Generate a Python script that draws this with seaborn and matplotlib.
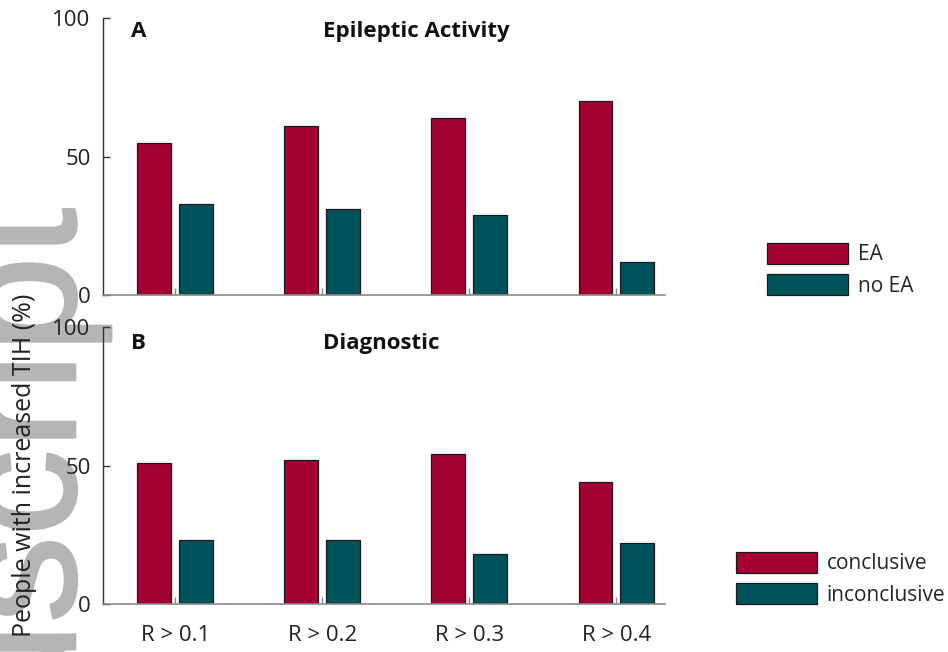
import numpy as np
import pandas as pd
import matplotlib
matplotlib.use("Agg")
import matplotlib.pyplot as plt
import matplotlib.patheffects as pe
import seaborn as sns

# Percent of people with increased TIH at each correlation threshold
thresholds = ["R > 0.1", "R > 0.2", "R > 0.3", "R > 0.4"]
ea = [55, 61, 64, 70]
no_ea = [33, 31, 29, 12]
conclusive = [51, 52, 54, 44]
inconclusive = [23, 23, 18, 22]
yticks = [0, 50, 100]

RED = "#A50034"
TEAL = "#00525A"
FS = 16

sns.set_theme(style="white")
plt.rcParams["font.family"] = ["Open Sans", "DejaVu Sans"]

fig = plt.figure(figsize=(9.48, 6.52), dpi=100)

# faint rotated stamp along the left edge
STAMP = "#b5b5b5"
fig.text(75 / 948, 1 - 208 / 652, "Manuscript", rotation=90, rotation_mode="anchor",
         ha="right", va="baseline", fontsize=125, color=STAMP, zorder=-5,
         family=["Liberation Sans", "DejaVu Sans"],
         path_effects=[pe.withStroke(linewidth=2, foreground=STAMP)])

ax_a = fig.add_axes([0.1087, 0.5475, 0.5928, 0.4248])
ax_b = fig.add_axes([0.1087, 0.0736, 0.5928, 0.4248])


def long_table(first, second, names):
    return pd.DataFrame({
        "threshold": thresholds * 2,
        "value": first + second,
        "group": [names[0]] * len(thresholds) + [names[1]] * len(thresholds),
    })


def panel(ax, first, second, names, letter, title, show_x, legend_x, legend_y, title_y):
    df = long_table(first, second, names)
    sns.barplot(data=df, x="threshold", y="value", hue="group", hue_order=names,
                palette=[RED, TEAL], saturation=1, width=0.57, gap=0.19,
                edgecolor="#1a1a1a", linewidth=0.9, errorbar=None, ax=ax)
    ax.patch.set_alpha(0)
    ax.set_xlim(-0.49, 3.33)
    ax.set_ylim(0, 100)
    ax.set_yticks(yticks)
    ax.set_xlabel("")
    ax.set_ylabel("")
    for s in ("top", "right"):
        ax.spines[s].set_visible(False)
    ax.spines["left"].set_color("#333333")
    ax.spines["left"].set_linewidth(1.0)
    ax.spines["bottom"].set_color("#8a8a8a")
    ax.spines["bottom"].set_linewidth(1.2)
    ax.tick_params(axis="y", direction="in", length=5, width=1, color="#333333",
                   labelsize=FS, pad=9, labelcolor="#222222", left=True)
    ax.tick_params(axis="x", direction="in", length=5, width=1, color="#8a8a8a",
                   labelsize=FS, pad=15, labelcolor="#222222", bottom=True,
                   labelbottom=show_x)
    ax.text(0.05, title_y, letter, transform=ax.transAxes, fontsize=FS,
            fontweight="bold", ha="left", va="baseline", color="#111111")
    ax.text(0.391, title_y, title, transform=ax.transAxes, fontsize=FS,
            fontweight="bold", ha="left", va="baseline", color="#111111")
    handles, labels = ax.get_legend_handles_labels()
    if ax.get_legend() is not None:
        ax.get_legend().remove()
    fig.legend(handles, labels, loc="upper left",
               bbox_to_anchor=(legend_x / 948, 1 - legend_y / 652),
               frameon=False, fontsize=15, handlelength=3.9, handleheight=1.15,
               handletextpad=0.45, labelspacing=0.43, borderpad=0,
               borderaxespad=0)


panel(ax_a, ea, no_ea, ["EA", "no EA"], "A", "Epileptic Activity", False, 767, 243, 0.931)
panel(ax_b, conclusive, inconclusive, ["conclusive", "inconclusive"], "B",
      "Diagnostic", True, 736, 552, 0.92)

fig.text(25 / 948, 1 - 465 / 652, "People with increased TIH (%)", rotation=90,
         ha="center", va="center", fontsize=18, color="#222222")

fig.savefig("out.png", dpi=100)
